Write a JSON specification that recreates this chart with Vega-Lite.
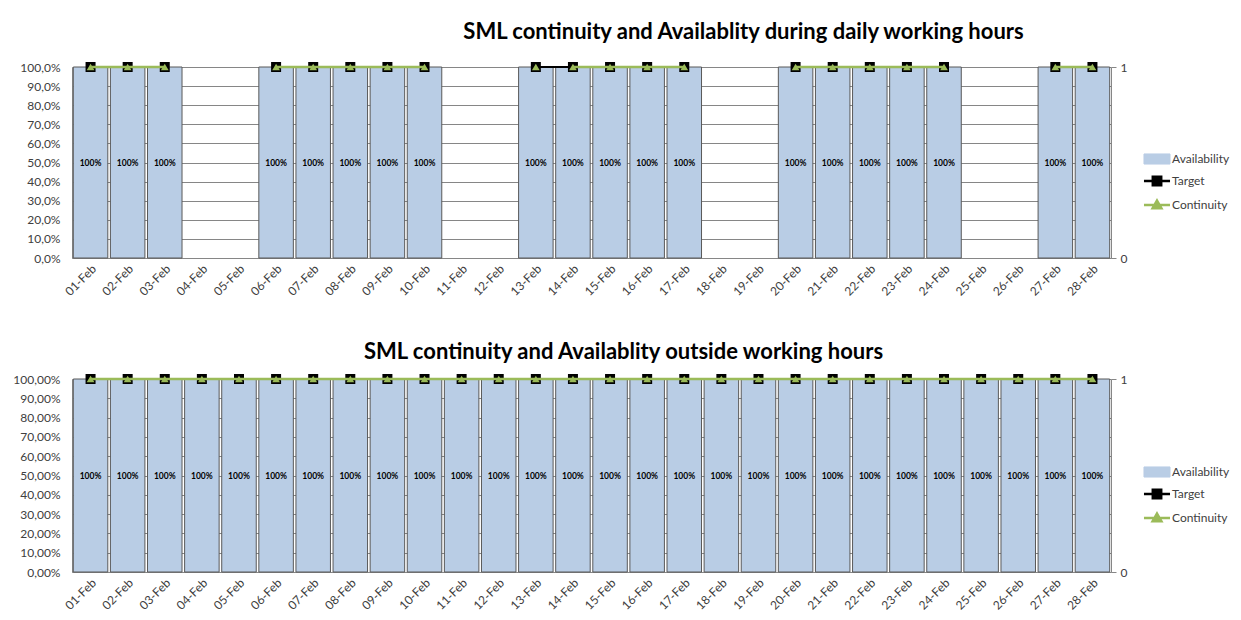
{
  "$schema": "https://vega.github.io/schema/vega-lite/v6.json",
  "background": "white",
  "padding": {"left": 12, "top": 21, "right": 5, "bottom": 0},
  "spacing": 43,
  "config": {
    "font": "Lato",
    "view": {"stroke": null},
    "title": {"fontSize": 22, "fontWeight": "bold", "color": "#000000", "anchor": "middle"},
    "legend": {"title": null, "orient": "none", "labelFontSize": 12, "labelColor": "#404040", "symbolSize": 441, "rowPadding": 4, "labelOffset": 9, "padding": 0}
  },
  "datasets": {
    "daily": [
      {"date": "01-Feb", "availability": 1, "target": 1, "continuity": 1, "seg": "w1", "cseg": "w1"},
      {"date": "02-Feb", "availability": 1, "target": 1, "continuity": 1, "seg": "w1", "cseg": "w1"},
      {"date": "03-Feb", "availability": 1, "target": 1, "continuity": 1, "seg": "w1", "cseg": "w1"},
      {"date": "06-Feb", "availability": 1, "target": 1, "continuity": 1, "seg": "w2", "cseg": "w2"},
      {"date": "07-Feb", "availability": 1, "target": 1, "continuity": 1, "seg": "w2", "cseg": "w2"},
      {"date": "08-Feb", "availability": 1, "target": 1, "continuity": 1, "seg": "w2", "cseg": "w2"},
      {"date": "09-Feb", "availability": 1, "target": 1, "continuity": 1, "seg": "w2", "cseg": "w2"},
      {"date": "10-Feb", "availability": 1, "target": 1, "continuity": 1, "seg": "w2", "cseg": "w2"},
      {"date": "13-Feb", "availability": 1, "target": 1, "continuity": 1, "seg": "w3", "cseg": "w3a"},
      {"date": "14-Feb", "availability": 1, "target": 1, "continuity": 1, "seg": "w3", "cseg": "w3b"},
      {"date": "15-Feb", "availability": 1, "target": 1, "continuity": 1, "seg": "w3", "cseg": "w3b"},
      {"date": "16-Feb", "availability": 1, "target": 1, "continuity": 1, "seg": "w3", "cseg": "w3b"},
      {"date": "17-Feb", "availability": 1, "target": 1, "continuity": 1, "seg": "w3", "cseg": "w3b"},
      {"date": "20-Feb", "availability": 1, "target": 1, "continuity": 1, "seg": "w4", "cseg": "w4"},
      {"date": "21-Feb", "availability": 1, "target": 1, "continuity": 1, "seg": "w4", "cseg": "w4"},
      {"date": "22-Feb", "availability": 1, "target": 1, "continuity": 1, "seg": "w4", "cseg": "w4"},
      {"date": "23-Feb", "availability": 1, "target": 1, "continuity": 1, "seg": "w4", "cseg": "w4"},
      {"date": "24-Feb", "availability": 1, "target": 1, "continuity": 1, "seg": "w4", "cseg": "w4"},
      {"date": "27-Feb", "availability": 1, "target": 1, "continuity": 1, "seg": "w5", "cseg": "w5"},
      {"date": "28-Feb", "availability": 1, "target": 1, "continuity": 1, "seg": "w5", "cseg": "w5"}
    ],
    "outside": [
      {"date": "01-Feb", "availability": 1, "target": 1, "continuity": 1, "seg": "a", "cseg": "a"},
      {"date": "02-Feb", "availability": 1, "target": 1, "continuity": 1, "seg": "a", "cseg": "a"},
      {"date": "03-Feb", "availability": 1, "target": 1, "continuity": 1, "seg": "a", "cseg": "a"},
      {"date": "04-Feb", "availability": 1, "target": 1, "continuity": 1, "seg": "a", "cseg": "a"},
      {"date": "05-Feb", "availability": 1, "target": 1, "continuity": 1, "seg": "a", "cseg": "a"},
      {"date": "06-Feb", "availability": 1, "target": 1, "continuity": 1, "seg": "a", "cseg": "a"},
      {"date": "07-Feb", "availability": 1, "target": 1, "continuity": 1, "seg": "a", "cseg": "a"},
      {"date": "08-Feb", "availability": 1, "target": 1, "continuity": 1, "seg": "a", "cseg": "a"},
      {"date": "09-Feb", "availability": 1, "target": 1, "continuity": 1, "seg": "a", "cseg": "a"},
      {"date": "10-Feb", "availability": 1, "target": 1, "continuity": 1, "seg": "a", "cseg": "a"},
      {"date": "11-Feb", "availability": 1, "target": 1, "continuity": 1, "seg": "a", "cseg": "a"},
      {"date": "12-Feb", "availability": 1, "target": 1, "continuity": 1, "seg": "a", "cseg": "a"},
      {"date": "13-Feb", "availability": 1, "target": 1, "continuity": 1, "seg": "a", "cseg": "a"},
      {"date": "14-Feb", "availability": 1, "target": 1, "continuity": 1, "seg": "a", "cseg": "a"},
      {"date": "15-Feb", "availability": 1, "target": 1, "continuity": 1, "seg": "a", "cseg": "a"},
      {"date": "16-Feb", "availability": 1, "target": 1, "continuity": 1, "seg": "a", "cseg": "a"},
      {"date": "17-Feb", "availability": 1, "target": 1, "continuity": 1, "seg": "a", "cseg": "a"},
      {"date": "18-Feb", "availability": 1, "target": 1, "continuity": 1, "seg": "a", "cseg": "a"},
      {"date": "19-Feb", "availability": 1, "target": 1, "continuity": 1, "seg": "a", "cseg": "a"},
      {"date": "20-Feb", "availability": 1, "target": 1, "continuity": 1, "seg": "a", "cseg": "a"},
      {"date": "21-Feb", "availability": 1, "target": 1, "continuity": 1, "seg": "a", "cseg": "a"},
      {"date": "22-Feb", "availability": 1, "target": 1, "continuity": 1, "seg": "a", "cseg": "a"},
      {"date": "23-Feb", "availability": 1, "target": 1, "continuity": 1, "seg": "a", "cseg": "a"},
      {"date": "24-Feb", "availability": 1, "target": 1, "continuity": 1, "seg": "a", "cseg": "a"},
      {"date": "25-Feb", "availability": 1, "target": 1, "continuity": 1, "seg": "a", "cseg": "a"},
      {"date": "26-Feb", "availability": 1, "target": 1, "continuity": 1, "seg": "a", "cseg": "a"},
      {"date": "27-Feb", "availability": 1, "target": 1, "continuity": 1, "seg": "a", "cseg": "a"},
      {"date": "28-Feb", "availability": 1, "target": 1, "continuity": 1, "seg": "a", "cseg": "a"}
    ]
  },
  "resolve": {"scale": {"color": "independent"}},
  "vconcat": [
    {
      "width": 1039,
      "height": 191,
      "title": {"text": "SML continuity and Availablity during daily working hours", "dx": 152, "offset": 17},
      "data": {"name": "daily"},
      "encoding": {
        "x": {"field": "date", "type": "ordinal", "title": null,
          "scale": {"domain": ["01-Feb","02-Feb","03-Feb","04-Feb","05-Feb","06-Feb","07-Feb","08-Feb","09-Feb","10-Feb","11-Feb","12-Feb","13-Feb","14-Feb","15-Feb","16-Feb","17-Feb","18-Feb","19-Feb","20-Feb","21-Feb","22-Feb","23-Feb","24-Feb","25-Feb","26-Feb","27-Feb","28-Feb"], "paddingInner": 0.07, "paddingOuter": 0.035},
          "axis": {"labelAngle": -45, "labelFontSize": 12, "labelColor": "#404040", "ticks": false, "domainColor": "#868686", "labelPadding": 5, "labelOverlap": false}}
      },
      "layer": [
        {
          "encoding": {
            "y": {"type": "quantitative", "title": null, "scale": {"domain": [0, 1]},
              "axis": {"values": [0,0.1,0.2,0.3,0.4,0.5,0.6,0.7,0.8,0.9,1], "labelExpr": "replace(format(datum.value, '.1%'), '.', ',')", "labelOverlap": false, "grid": true, "gridColor": "#868686", "ticks": false, "domainColor": "#868686", "labelFontSize": 12, "labelColor": "#404040", "labelPadding": 12}}
          },
          "layer": [
            {
              "mark": {"type": "bar", "stroke": "#595959", "strokeWidth": 1},
              "encoding": {
                "y": {"field": "availability"},
                "color": {"datum": "Availability", "type": "nominal",
                  "scale": {"domain": ["Availability", "Target", "Continuity"], "range": ["#B9CDE5", "#000000", "#9BBB59"]},
                  "legend": {"legendX": 1079, "legendY": 86,
                    "symbolType": {"expr": "datum.value === 'Availability' ? 'M-1.24,-0.48H1.24V0.48H-1.24Z' : datum.value === 'Target' ? 'M-1.24,0H1.24M-0.4,-0.4H0.4V0.4H-0.4Z' : 'M-1.24,0H1.24M0,-0.42L0.42,0.32H-0.42Z'"},
                    "symbolStrokeColor": {"expr": "datum.value === 'Availability' ? '#595959' : datum.value === 'Target' ? '#000000' : '#9BBB59'"},
                    "symbolStrokeWidth": {"expr": "datum.value === 'Availability' ? 1 : 2.5"},
                    "symbolOpacity": 1}}
              }
            },
            {
              "mark": {"type": "text", "fontSize": 8.5, "fontWeight": "bold", "color": "#000000"},
              "encoding": {
                "y": {"datum": 0.5},
                "text": {"field": "availability", "type": "quantitative", "format": ".0%"}
              }
            }
          ]
        },
        {
          "encoding": {
            "y": {"type": "quantitative", "title": null, "scale": {"domain": [0, 1]},
              "axis": {"orient": "right", "values": [0, 1], "format": "d", "grid": false, "ticks": true, "tickSize": 5, "tickColor": "#868686", "domainColor": "#868686", "labelFontSize": 12, "labelColor": "#404040", "labelPadding": 4}}
          },
          "layer": [
            {"mark": {"type": "line", "strokeWidth": 2}, "encoding": {"y": {"field": "target"}, "detail": {"field": "seg"}, "color": {"datum": "Target", "type": "nominal"}}},
            {"mark": {"type": "point", "shape": "square", "filled": true, "size": 100, "opacity": 1}, "encoding": {"y": {"field": "target"}, "color": {"datum": "Target", "type": "nominal"}}},
            {"mark": {"type": "line", "strokeWidth": 2.5}, "encoding": {"y": {"field": "continuity"}, "detail": {"field": "cseg"}, "color": {"datum": "Continuity", "type": "nominal"}}},
            {"mark": {"type": "point", "shape": "triangle-up", "filled": true, "size": 60, "opacity": 1}, "encoding": {"y": {"field": "continuity"}, "color": {"datum": "Continuity", "type": "nominal"}}}
          ]
        }
      ],
      "resolve": {"scale": {"y": "independent"}}
    },
    {
      "width": 1039,
      "height": 193,
      "title": {"text": "SML continuity and Availablity outside working hours", "dx": 32, "offset": 9},
      "data": {"name": "outside"},
      "encoding": {
        "x": {"field": "date", "type": "ordinal", "title": null,
          "scale": {"domain": ["01-Feb","02-Feb","03-Feb","04-Feb","05-Feb","06-Feb","07-Feb","08-Feb","09-Feb","10-Feb","11-Feb","12-Feb","13-Feb","14-Feb","15-Feb","16-Feb","17-Feb","18-Feb","19-Feb","20-Feb","21-Feb","22-Feb","23-Feb","24-Feb","25-Feb","26-Feb","27-Feb","28-Feb"], "paddingInner": 0.07, "paddingOuter": 0.035},
          "axis": {"labelAngle": -45, "labelFontSize": 12, "labelColor": "#404040", "ticks": false, "domainColor": "#868686", "labelPadding": 5, "labelOverlap": false}}
      },
      "layer": [
        {
          "encoding": {
            "y": {"type": "quantitative", "title": null, "scale": {"domain": [0, 1]},
              "axis": {"values": [0,0.1,0.2,0.3,0.4,0.5,0.6,0.7,0.8,0.9,1], "labelExpr": "replace(format(datum.value, '.2%'), '.', ',')", "labelOverlap": false, "grid": true, "gridColor": "#868686", "ticks": false, "domainColor": "#868686", "labelFontSize": 12, "labelColor": "#404040", "labelPadding": 12}}
          },
          "layer": [
            {
              "mark": {"type": "bar", "stroke": "#595959", "strokeWidth": 1},
              "encoding": {
                "y": {"field": "availability"},
                "color": {"datum": "Availability", "type": "nominal",
                  "scale": {"domain": ["Availability", "Target", "Continuity"], "range": ["#B9CDE5", "#000000", "#9BBB59"]},
                  "legend": {"legendX": 1079, "legendY": 87,
                    "symbolType": {"expr": "datum.value === 'Availability' ? 'M-1.24,-0.48H1.24V0.48H-1.24Z' : datum.value === 'Target' ? 'M-1.24,0H1.24M-0.4,-0.4H0.4V0.4H-0.4Z' : 'M-1.24,0H1.24M0,-0.42L0.42,0.32H-0.42Z'"},
                    "symbolStrokeColor": {"expr": "datum.value === 'Availability' ? '#595959' : datum.value === 'Target' ? '#000000' : '#9BBB59'"},
                    "symbolStrokeWidth": {"expr": "datum.value === 'Availability' ? 1 : 2.5"},
                    "symbolOpacity": 1}}
              }
            },
            {
              "mark": {"type": "text", "fontSize": 8.5, "fontWeight": "bold", "color": "#000000"},
              "encoding": {
                "y": {"datum": 0.5},
                "text": {"field": "availability", "type": "quantitative", "format": ".0%"}
              }
            }
          ]
        },
        {
          "encoding": {
            "y": {"type": "quantitative", "title": null, "scale": {"domain": [0, 1]},
              "axis": {"orient": "right", "values": [0, 1], "format": "d", "grid": false, "ticks": true, "tickSize": 5, "tickColor": "#868686", "domainColor": "#868686", "labelFontSize": 12, "labelColor": "#404040", "labelPadding": 4}}
          },
          "layer": [
            {"mark": {"type": "line", "strokeWidth": 2}, "encoding": {"y": {"field": "target"}, "detail": {"field": "seg"}, "color": {"datum": "Target", "type": "nominal"}}},
            {"mark": {"type": "point", "shape": "square", "filled": true, "size": 100, "opacity": 1}, "encoding": {"y": {"field": "target"}, "color": {"datum": "Target", "type": "nominal"}}},
            {"mark": {"type": "line", "strokeWidth": 2.5}, "encoding": {"y": {"field": "continuity"}, "detail": {"field": "cseg"}, "color": {"datum": "Continuity", "type": "nominal"}}},
            {"mark": {"type": "point", "shape": "triangle-up", "filled": true, "size": 60, "opacity": 1}, "encoding": {"y": {"field": "continuity"}, "color": {"datum": "Continuity", "type": "nominal"}}}
          ]
        }
      ],
      "resolve": {"scale": {"y": "independent"}}
    }
  ]
}
